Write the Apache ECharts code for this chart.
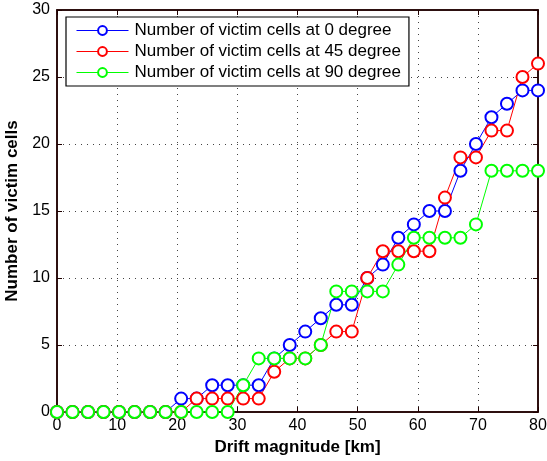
<!DOCTYPE html>
<html>
<head>
<meta charset="utf-8">
<script src="https://cdn.jsdelivr.net/npm/echarts@6/dist/echarts.min.js"></script>
<style>
html,body{margin:0;padding:0;background:#fff;}
#chart{width:547px;height:461px;}
</style>
</head>
<body>
<div id="chart"></div>
<script>
// Drift magnitude [km] sample points
const drift = [0, 2.58, 5.16, 7.74, 10.32, 12.90, 15.48, 18.06, 20.65, 23.23, 25.81, 28.39, 30.97, 33.55, 36.13, 38.71, 41.29, 43.87, 46.45, 49.03, 51.61, 54.19, 56.77, 59.35, 61.94, 64.52, 67.10, 69.68, 72.26, 74.84, 77.42, 80];
const cells0  = [0,0,0,0,0,0,0,0,1,1,2,2,2,2,4,5,6,7,8,8,10,11,13,14,15,15,18,20,22,23,24,24];
const cells45 = [0,0,0,0,0,0,0,0,0,1,1,1,1,1,3,4,4,5,6,6,10,12,12,12,12,16,19,19,21,21,25,26];
const cells90 = [0,0,0,0,0,0,0,0,0,0,0,0,2,4,4,4,4,5,9,9,9,9,11,13,13,13,13,14,18,18,18,18];
const seriesNames = ['Number of victim cells at 0 degree','Number of victim cells at 45 degree','Number of victim cells at 90 degree'];
const xTicks = [0,10,20,30,40,50,60,70,80];
const yTicks = [0,5,10,15,20,25,30];

const FONT = "'Liberation Sans', Arial, Helvetica, sans-serif";
const colors = ['#0000ff','#ff0000','#00ff00'];
const values = [cells0, cells45, cells90];
const FRAME = '#200000';

const chart = echarts.init(document.getElementById('chart'));

function mkSeries(i){
  return {
    name: seriesNames[i],
    type: 'line',
    data: drift.map((x,k)=>[x, values[i][k]]),
    symbol: 'emptyCircle',
    symbolSize: 12,
    showAllSymbol: true,
    color: colors[i],
    lineStyle: {color: colors[i], width: 1},
    itemStyle: {color: colors[i], borderColor: colors[i], borderWidth: 1},
    emphasis: {disabled: true}
  };
}

function gridLine(){ return {show:true, lineStyle:{color:'#444', type:[1,5], width:1}}; }
function axLine(){ return {show:true, onZero:false, lineStyle:{color:FRAME, width:1.5}}; }
function tick(){ return {show:true, inside:true, length:5, lineStyle:{color:FRAME, width:1}}; }

chart.setOption({
  animation: false,
  grid: {left:57, right:9, top:10, bottom:49, outerBoundsMode:'none', show:true, borderColor:FRAME, borderWidth:1.5},
  legend: {
    data: seriesNames,
    orient: 'vertical',
    left: 66, top: 17,
    padding: [5, 8, 5, 10],
    itemGap: 4,
    itemWidth: 52,
    itemHeight: 11,
    lineStyle: {width: 1},
    borderColor: '#000', borderWidth: 1.2,
    backgroundColor: '#fff',
    textStyle: {fontFamily: FONT, fontSize: 17, color: '#000', padding:[0,0,0,1]},
    selectedMode: false
  },
  xAxis: [{
    type: 'value', min: xTicks[0], max: xTicks[xTicks.length-1], interval: 10,
    name: 'Drift magnitude [km]', nameLocation: 'middle', nameGap: 16,
    nameTextStyle: {fontFamily: FONT, fontSize: 17, fontWeight: 'bold', color: '#000'},
    axisLine: axLine(), axisTick: tick(), splitLine: gridLine(),
    axisLabel: {fontFamily: FONT, fontSize: 16, color: '#000', margin: 6}
  },{
    type: 'value', position: 'top', min: xTicks[0], max: xTicks[xTicks.length-1], interval: 10,
    axisLine: axLine(), axisTick: tick(), splitLine: {show:false}, axisLabel: {show:false}
  }],
  yAxis: [{
    type: 'value', min: yTicks[0], max: yTicks[yTicks.length-1], interval: 5,
    name: 'Number of victim cells', nameLocation: 'middle', nameGap: 28,
    nameTextStyle: {fontFamily: FONT, fontSize: 17, fontWeight: 'bold', color: '#000'},
    axisLine: axLine(), axisTick: tick(), splitLine: gridLine(),
    axisLabel: {fontFamily: FONT, fontSize: 16, color: '#000', margin: 7}
  },{
    type: 'value', position: 'right', min: yTicks[0], max: yTicks[yTicks.length-1], interval: 5,
    axisLine: axLine(), axisTick: tick(), splitLine: {show:false}, axisLabel: {show:false}
  }],
  series: [mkSeries(0), mkSeries(1), mkSeries(2)]
});
</script>
</body>
</html>
